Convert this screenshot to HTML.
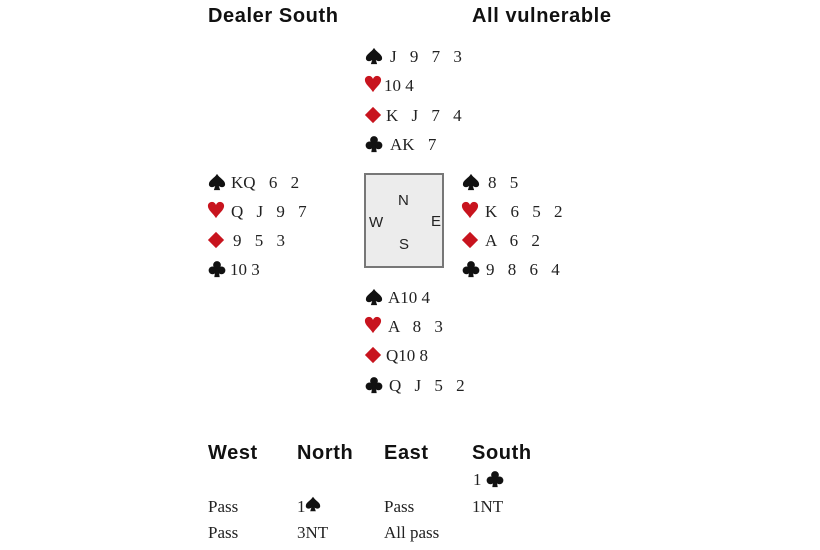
<!DOCTYPE html>
<html><head><meta charset="utf-8"><style>
body{margin:0;width:820px;height:550px;background:#fff;position:relative;overflow:hidden;font-family:"Liberation Serif",serif;color:#222}
.h{position:absolute;font-family:"Liberation Sans",sans-serif;font-weight:bold;font-size:20px;color:#111;line-height:20px;letter-spacing:0.6px}
.r{position:absolute;font-size:17px;line-height:20px;white-space:pre;word-spacing:9px}
.t{word-spacing:0}
svg.s{position:absolute;width:18px;height:18px}
.box{position:absolute;left:364px;top:173px;width:76px;height:91px;background:#ececec;border:2px solid #777}
.c{position:absolute;font-family:"Liberation Sans",sans-serif;font-size:15px;color:#222;line-height:16px}
.a{position:absolute;font-size:17px;line-height:20px;white-space:pre}
</style></head><body>
<svg width="0" height="0" style="position:absolute"><defs>
<path id="sp" d="M10 1 C7 6 1 8 1 12.5 C1 15.5 4.5 17 8 14.5 L6.5 19 H13.5 L12 14.5 C15.5 17 19 15.5 19 12.5 C19 8 13 6 10 1Z" fill="#111"/>
<path id="he" d="M10 19 C7 14 1 10 1 5.5 C1 2.5 3.5 1 5.5 1 C8 1 9.5 3 10 4.5 C10.5 3 12 1 14.5 1 C16.5 1 19 2.5 19 5.5 C19 10 13 14 10 19Z" fill="#c8141e"/>
<path id="di" d="M10 1 L19 10 L10 19 L1 10Z" fill="#c8141e"/>
<g id="cl" fill="#111"><circle cx="10" cy="5.5" r="4.3"/><circle cx="5" cy="11.5" r="4.3"/><circle cx="15" cy="11.5" r="4.3"/><path d="M8.5 9 H11.5 L13 19 H7Z"/></g>
</defs></svg>

<div class="h" style="left:208px;top:6px">Dealer South</div>
<div class="h" style="left:472px;top:6px">All vulnerable</div>

<svg class="s" style="left:365px;top:47px" viewBox="0 0 20 20"><use href="#sp"/></svg><div class="r" style="left:390px;top:47px">J 9 7 3</div>
<svg class="s" style="left:364px;top:75px" viewBox="0 0 20 20"><use href="#he"/></svg><div class="r" style="left:384px;top:76px"><span class="t">10 4</span></div>
<svg class="s" style="left:364px;top:106px" viewBox="0 0 20 20"><use href="#di"/></svg><div class="r" style="left:386px;top:106px">K J 7 4</div>
<svg class="s" style="left:365px;top:135px" viewBox="0 0 20 20"><use href="#cl"/></svg><div class="r" style="left:390px;top:135px"><span class="t">AK</span> 7</div>

<svg class="s" style="left:208px;top:173px" viewBox="0 0 20 20"><use href="#sp"/></svg><div class="r" style="left:231px;top:173px"><span class="t">KQ</span> 6 2</div>
<svg class="s" style="left:207px;top:201px" viewBox="0 0 20 20"><use href="#he"/></svg><div class="r" style="left:231px;top:202px">Q J 9 7</div>
<svg class="s" style="left:207px;top:231px" viewBox="0 0 20 20"><use href="#di"/></svg><div class="r" style="left:233px;top:231px">9 5 3</div>
<svg class="s" style="left:208px;top:260px" viewBox="0 0 20 20"><use href="#cl"/></svg><div class="r" style="left:230px;top:260px"><span class="t">10 3</span></div>

<div class="box"></div>
<div class="c" style="left:398px;top:193px">N</div>
<div class="c" style="left:369px;top:215px">W</div>
<div class="c" style="left:431px;top:214px">E</div>
<div class="c" style="left:399px;top:237px">S</div>

<svg class="s" style="left:462px;top:173px" viewBox="0 0 20 20"><use href="#sp"/></svg><div class="r" style="left:488px;top:173px">8 5</div>
<svg class="s" style="left:461px;top:201px" viewBox="0 0 20 20"><use href="#he"/></svg><div class="r" style="left:485px;top:202px">K 6 5 2</div>
<svg class="s" style="left:461px;top:231px" viewBox="0 0 20 20"><use href="#di"/></svg><div class="r" style="left:485px;top:231px">A 6 2</div>
<svg class="s" style="left:462px;top:260px" viewBox="0 0 20 20"><use href="#cl"/></svg><div class="r" style="left:486px;top:260px">9 8 6 4</div>

<svg class="s" style="left:365px;top:288px" viewBox="0 0 20 20"><use href="#sp"/></svg><div class="r" style="left:388px;top:288px"><span class="t">A10 4</span></div>
<svg class="s" style="left:364px;top:316px" viewBox="0 0 20 20"><use href="#he"/></svg><div class="r" style="left:388px;top:317px">A 8 3</div>
<svg class="s" style="left:364px;top:346px" viewBox="0 0 20 20"><use href="#di"/></svg><div class="r" style="left:386px;top:346px"><span class="t">Q10 8</span></div>
<svg class="s" style="left:365px;top:376px" viewBox="0 0 20 20"><use href="#cl"/></svg><div class="r" style="left:389px;top:376px">Q J 5 2</div>

<div class="h" style="left:208px;top:443px">West</div>
<div class="h" style="left:297px;top:443px">North</div>
<div class="h" style="left:384px;top:443px">East</div>
<div class="h" style="left:472px;top:443px">South</div>
<div class="a" style="left:473px;top:470px">1</div>
<svg class="s" style="left:486px;top:470px" viewBox="0 0 20 20"><use href="#cl"/></svg>
<div class="a" style="left:208px;top:497px">Pass</div>
<div class="a" style="left:297px;top:497px">1</div>
<svg class="s" style="left:305px;top:496px;width:16px;height:16px" viewBox="0 0 20 20"><use href="#sp"/></svg>
<div class="a" style="left:384px;top:497px">Pass</div>
<div class="a" style="left:472px;top:497px">1NT</div>
<div class="a" style="left:208px;top:523px">Pass</div>
<div class="a" style="left:297px;top:523px">3NT</div>
<div class="a" style="left:384px;top:523px">All pass</div>
</body></html>
